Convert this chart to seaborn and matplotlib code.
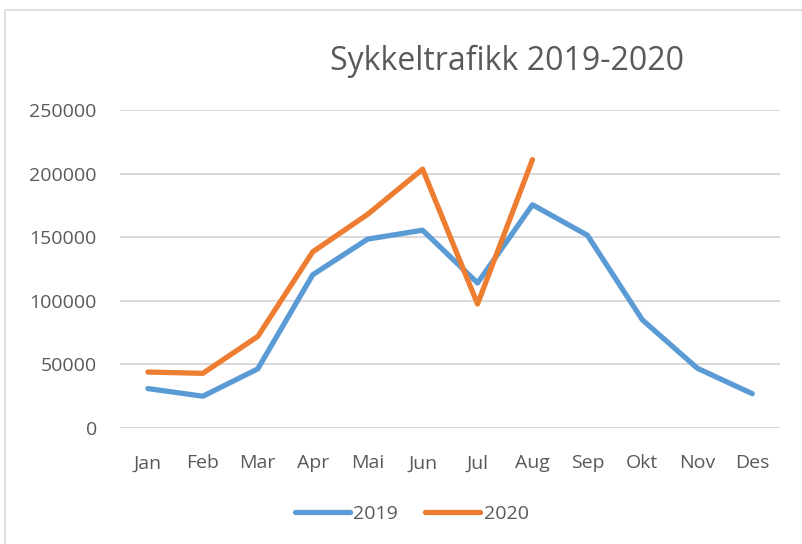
import numpy as np
import pandas as pd
import matplotlib
matplotlib.use("Agg")
import matplotlib.pyplot as plt
import seaborn as sns
from matplotlib.patches import Rectangle

# Data
months = ["Jan", "Feb", "Mar", "Apr", "Mai", "Jun", "Jul", "Aug", "Sep", "Okt", "Nov", "Des"]
trafikk_2019 = [31000, 25000, 46500, 120500, 148500, 155500, 114000, 175500, 151500, 85000, 47000, 27000]
trafikk_2020 = [44000, 43000, 72000, 138500, 168000, 203500, 97500, 211000]

farger = {"2019": "#5B9BD5", "2020": "#ED7D31"}

# long form for seaborn
rows = []
for m, v in zip(months, trafikk_2019):
    rows.append({"Maaned": m, "Antall": v, "Aar": "2019"})
for m, v in zip(months, trafikk_2020):
    rows.append({"Maaned": m, "Antall": v, "Aar": "2020"})
df = pd.DataFrame(rows)

sns.set_theme(style="white")
plt.rcParams["font.family"] = ["Open Sans", "DejaVu Sans"]

fig = plt.figure(figsize=(8.03, 5.44), dpi=100)
ax = fig.add_axes([0.150, 0.2132, 0.821, 0.5846])

sns.lineplot(data=df, x="Maaned", y="Antall", hue="Aar", palette=farger,
             linewidth=3.8, solid_capstyle="round", ax=ax, legend=False, sort=False)

ax.set_xlim(-0.5, 11.5)
ax.set_ylim(0, 250000)
ax.set_yticks(np.arange(0, 250001, 50000))
ax.set_yticklabels([str(v) for v in range(0, 250001, 50000)])
ax.grid(axis="y", color="#D9D9D9", linewidth=1.4)
ax.set_axisbelow(True)
for s in ax.spines.values():
    s.set_visible(False)
ax.tick_params(axis="both", length=0, labelsize=14, colors="#595959")
ax.tick_params(axis="y", pad=17)
ax.tick_params(axis="x", pad=19)
ax.set_xlabel("")
ax.set_ylabel("")

fig.text(0.632, 0.888, "Sykkeltrafikk 2019-2020", ha="center", va="center",
         fontsize=23, color="#595959")

# legend under the plot
handles = [plt.Line2D([], [], color=farger[k], linewidth=3.8, solid_capstyle="round") for k in farger]
fig.legend(handles, list(farger), loc="center", bbox_to_anchor=(0.513, 0.055), ncol=2,
           frameon=False, fontsize=14, labelcolor="#595959", handlelength=2.8,
           handletextpad=0.2, columnspacing=1.4)

# light frame round the chart area
fig.patches.append(Rectangle((5 / 803, -0.05), 1.2, 1 - 10 / 544 + 0.05,
                             transform=fig.transFigure, fill=False,
                             edgecolor="#D9D9D9", linewidth=1.2))

fig.savefig("out.png", dpi=100)
